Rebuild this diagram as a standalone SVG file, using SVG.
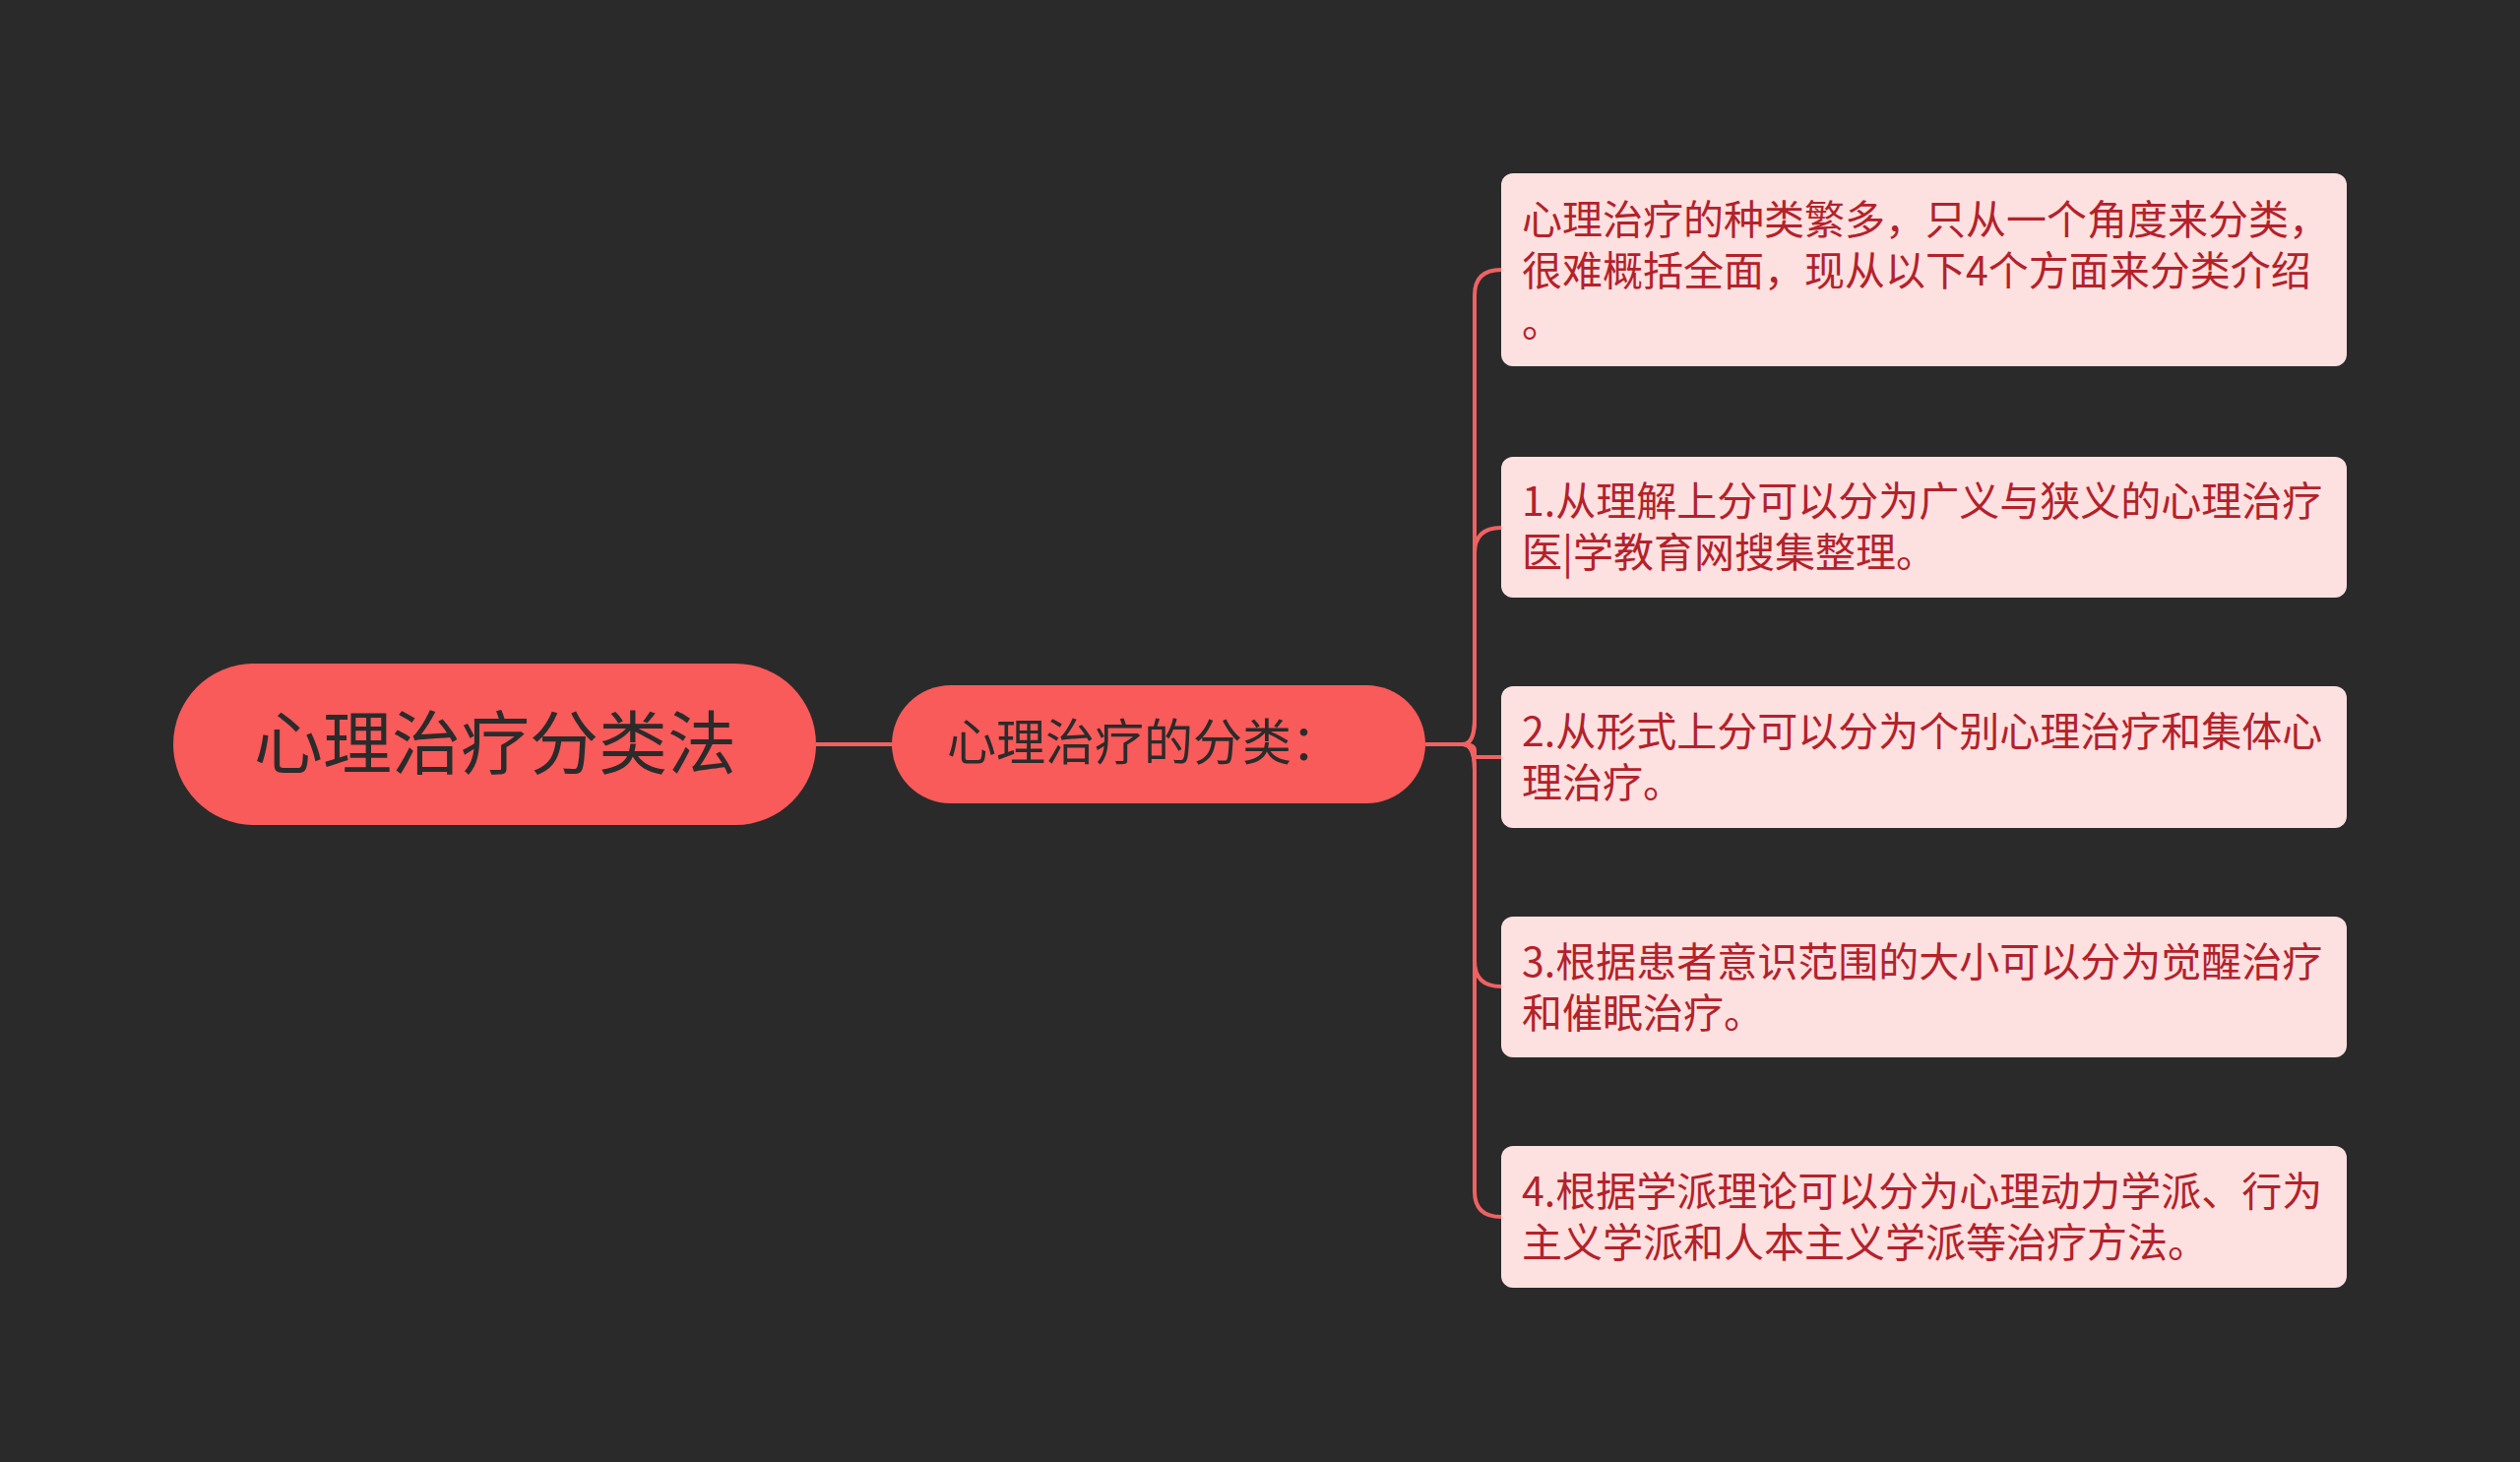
<svg xmlns="http://www.w3.org/2000/svg" width="2560" height="1485" viewBox="0 0 2560 1485">
<style>
.bx{fill:#fde0e0;}
.t{font-family:"Noto Sans CJK SC","Noto Sans",sans-serif;font-size:41px;fill:#b3222b;}
.c{fill:none;stroke:#f06262;stroke-width:4;}
</style>
<rect width="2560" height="1485" fill="#2a2a2a"/>
<g id="connectors">
<path class="c" d="M829 756 L906 756"/>
<path class="c" d="M1448 756 L1486 756"/>
<path class="c" d="M1486 756 Q1498 756 1498 730 L1498 300 Q1498 274 1525 274"/>
<path class="c" d="M1486 756 Q1498 756 1498 730 L1498 562 Q1498 536 1525 536"/>
<path class="c" d="M1486 756 Q1498 756 1498 762 L1498 769 Q1498 769 1525 769"/>
<path class="c" d="M1486 756 Q1498 756 1498 782 L1498 976 Q1498 1002 1525 1002"/>
<path class="c" d="M1486 756 Q1498 756 1498 782 L1498 1210 Q1498 1236 1525 1236"/>
</g>
<g id="root"><rect x="176" y="674" width="653" height="164" rx="82" fill="#f95a5a"/>
<text x="503" y="781" text-anchor="middle" font-family="Noto Sans CJK SC,sans-serif" font-size="70" fill="#2b2b2b">心理治疗分类法</text></g>
<g id="mid"><rect x="906" y="696" width="542" height="120" rx="60" fill="#f95a5a"/>
<text x="1162" y="772" text-anchor="middle" font-family="Noto Sans CJK SC,sans-serif" font-size="50" fill="#2b2b2b">心理治疗的分类：</text></g>
<g id="n1"><rect class="bx" x="1525" y="176" width="859" height="196" rx="12"/>
<text class="t"><tspan x="1546" y="238">心理治疗的种类繁多，只从一个角度来分类，</tspan><tspan x="1546" y="290">很难概括全面，现从以下4个方面来分类介绍</tspan><tspan x="1546" y="342">。</tspan></text></g>
<g id="n2"><rect class="bx" x="1525" y="464" width="859" height="143" rx="12"/>
<text class="t"><tspan x="1546" y="524">1.从理解上分可以分为广义与狭义的心理治疗</tspan><tspan x="1546" y="576">医|学教育网搜集整理。</tspan></text></g>
<g id="n3"><rect class="bx" x="1525" y="697" width="859" height="144" rx="12"/>
<text class="t"><tspan x="1546" y="758">2.从形式上分可以分为个别心理治疗和集体心</tspan><tspan x="1546" y="810">理治疗。</tspan></text></g>
<g id="n4"><rect class="bx" x="1525" y="931" width="859" height="143" rx="12"/>
<text class="t"><tspan x="1546" y="992">3.根据患者意识范围的大小可以分为觉醒治疗</tspan><tspan x="1546" y="1044">和催眠治疗。</tspan></text></g>
<g id="n5"><rect class="bx" x="1525" y="1164" width="859" height="144" rx="12"/>
<text class="t"><tspan x="1546" y="1225">4.根据学派理论可以分为心理动力学派、行为</tspan><tspan x="1546" y="1277">主义学派和人本主义学派等治疗方法。</tspan></text></g>
</svg>
